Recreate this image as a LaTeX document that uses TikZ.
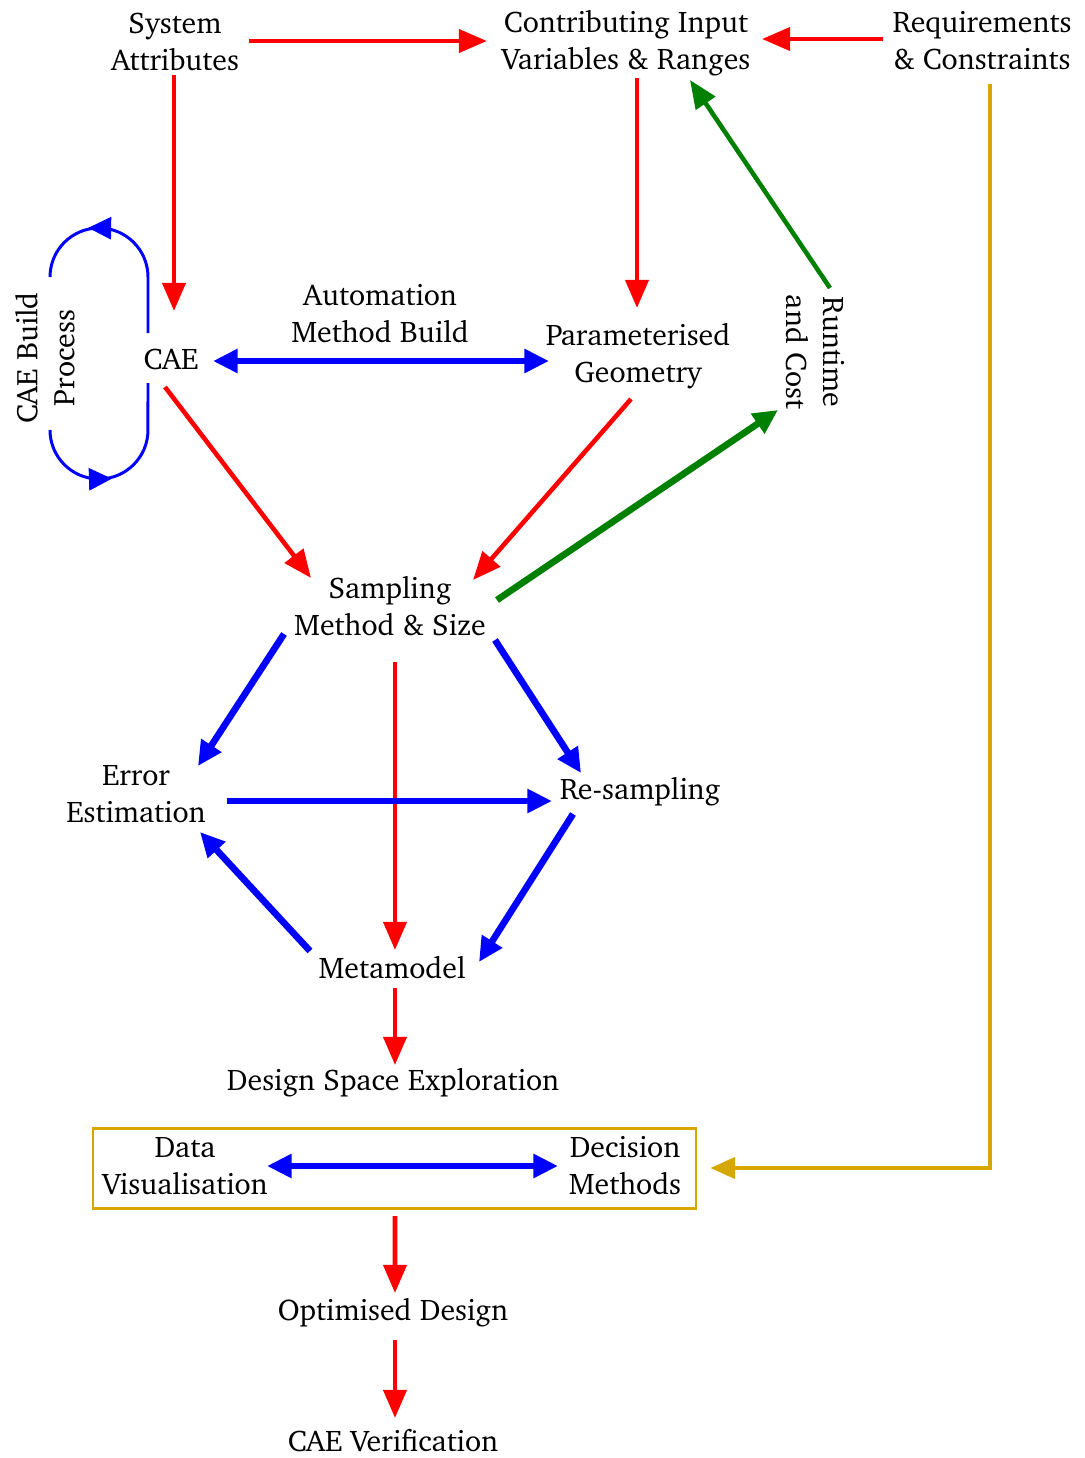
\documentclass[tikz,border=0pt]{standalone}
\usepackage[T1]{fontenc}
\usepackage{charter}
\usetikzlibrary{arrows.meta,calc,decorations.markings}
\definecolor{myred}{RGB}{255,0,0}
\definecolor{myblue}{RGB}{0,0,255}
\definecolor{mygreen}{RGB}{0,128,0}
\definecolor{mygold}{RGB}{215,166,0}
\tikzset{
  lbl/.style={align=center,inner sep=0pt,font=\fontsize{17}{21}\selectfont},
  redarr/.style={draw=myred,line width=2.6pt,-{Triangle[length=16pt,width=13pt]}},
  bluearr/.style={draw=myblue,line width=3.8pt,-{Triangle[length=14pt,width=13pt]}},
  bluedbl/.style={draw=myblue,line width=3.8pt,{Triangle[length=14pt,width=13pt]}-{Triangle[length=14pt,width=13pt]}},
  greenarr/.style={draw=mygreen,line width=2.6pt,-{Triangle[length=16pt,width=13pt]}},
  greenthick/.style={draw=mygreen,line width=3.8pt,-{Triangle[length=14pt,width=13pt]}},
  goldarr/.style={draw=mygold,line width=2.3pt,-{Triangle[length=14pt,width=12pt]}},
  loopline/.style={draw=myblue,line width=1.7pt},
  midtip/.style={postaction={decorate},decoration={markings,mark=at position #1 with {\fill[myblue] (6.5pt,0pt) -- (-6.5pt,6.5pt) -- (-6.5pt,-6.5pt) -- cycle;}}},
}
\begin{document}
\begin{tikzpicture}[x=0.02cm,y=-0.02cm]
\useasboundingbox (0,0) rectangle (1085,1458);

% nodes
\node[lbl] (sys) at (175,42) {System\\Attributes};
\node[lbl] (cont) at (626,43) {Contributing Input\\Variables \& Ranges};
\node[lbl] (req) at (982,41) {Requirements\\\& Constraints};
\node[lbl] (cae) at (171,360) {CAE};
\node[lbl] (auto) at (380,314) {Automation\\Method Build};
\node[lbl] (param) at (638,356) {Parameterised\\Geometry};
\node[lbl,rotate=-90] (rt) at (815,352) {Runtime\\and Cost};
\node[lbl,rotate=90] (build) at (45,358) {CAE Build\\Process};
\node[lbl] (samp) at (390,606) {Sampling\\Method \& Size};
\node[lbl] (err) at (136,794) {Error\\Estimation};
\node[lbl] (resamp) at (640,792) {Re-sampling};
\node[lbl] (meta) at (392,968) {Metamodel};
\node[lbl] (dse) at (393,1083) {Design Space Exploration};
\node[draw=mygold,line width=1.7pt,minimum width=603*0.02cm,minimum height=80*0.02cm,inner sep=0pt] (box) at (394.5,1168) {};
\node[lbl] (data) at (185,1166) {Data\\Visualisation};
\node[lbl] (dec) at (625,1166) {Decision\\Methods};
\node[lbl] (opt) at (393,1313) {Optimised Design};
\node[lbl] (ver) at (393,1441) {CAE Verification};

% red arrows
\draw[redarr] ([shift={(74,-1)}]sys.center) -- ([shift={(-139,-2)}]cont.center);
\draw[redarr] ([shift={(-99,-2)}]req.center) -- ([shift={(136,-4)}]cont.center);
\draw[redarr] ([shift={(-1,33)}]sys.center) -- ([shift={(3,-49)}]cae.center);
\draw[redarr] ([shift={(11,35)}]cont.center) -- ([shift={(-1,-48)}]param.center);
\draw[redarr] ([shift={(-6,27)}]cae.center) -- ([shift={(-79,-28)}]samp.center);
\draw[redarr] ([shift={(-7,43)}]param.center) -- ([shift={(83,-26)}]samp.center);
\draw[redarr] ([shift={(5,56)}]samp.center) -- ([shift={(3,-18)}]meta.center);
\draw[redarr] ([shift={(3,20)}]meta.center) -- ([shift={(2,-18)}]dse.center);
\draw[redarr] ([shift={(0.5,48)}]box.center) -- ([shift={(2,-20)}]opt.center);
\draw[redarr] ([shift={(2,27)}]opt.center) -- ([shift={(2,-23)}]ver.center);

% green arrows
\draw[greenarr] ([shift={(15,-64)}]rt.center) -- ([shift={(64,37)}]cont.center);
\draw[greenthick] ([shift={(107,-6)}]samp.center) -- ([shift={(-37,58)}]rt.center);

% gold arrow
\draw[goldarr] ([shift={(8,43)}]req.center) |- ([shift={(13,0)}]box.east);

% blue arrows
\draw[bluedbl] ([shift={(42,1)}]cae.center) -- ([shift={(-89,5)}]param.center);
\draw[bluearr] ([shift={(-106,28)}]samp.center) -- ([shift={(62,-28)}]err.center);
\draw[bluearr] ([shift={(105,34)}]samp.center) -- ([shift={(-59,-19)}]resamp.center);
\draw[bluearr] ([shift={(91,7)}]err.center) -- ([shift={(-88,9)}]resamp.center);
\draw[bluearr] ([shift={(-67,22)}]resamp.center) -- ([shift={(87,-6)}]meta.center);
\draw[bluearr] ([shift={(-82,-17)}]meta.center) -- ([shift={(64,38)}]err.center);
\draw[bluedbl] ([shift={(82,0)}]data.center) -- ([shift={(-67,0)}]dec.center);

% CAE build loop
\draw[loopline,midtip=0.63] ([shift={(-23,-27)}]cae.center) -- ++(0,-56) arc[start angle=0,end angle=180,radius=0.98cm];
\draw[loopline,midtip=0.39] ([shift={(-121,70)}]cae.center) arc[start angle=180,end angle=360,radius=0.98cm] -- ([shift={(-23,23)}]cae.center);
\end{tikzpicture}
\end{document}
